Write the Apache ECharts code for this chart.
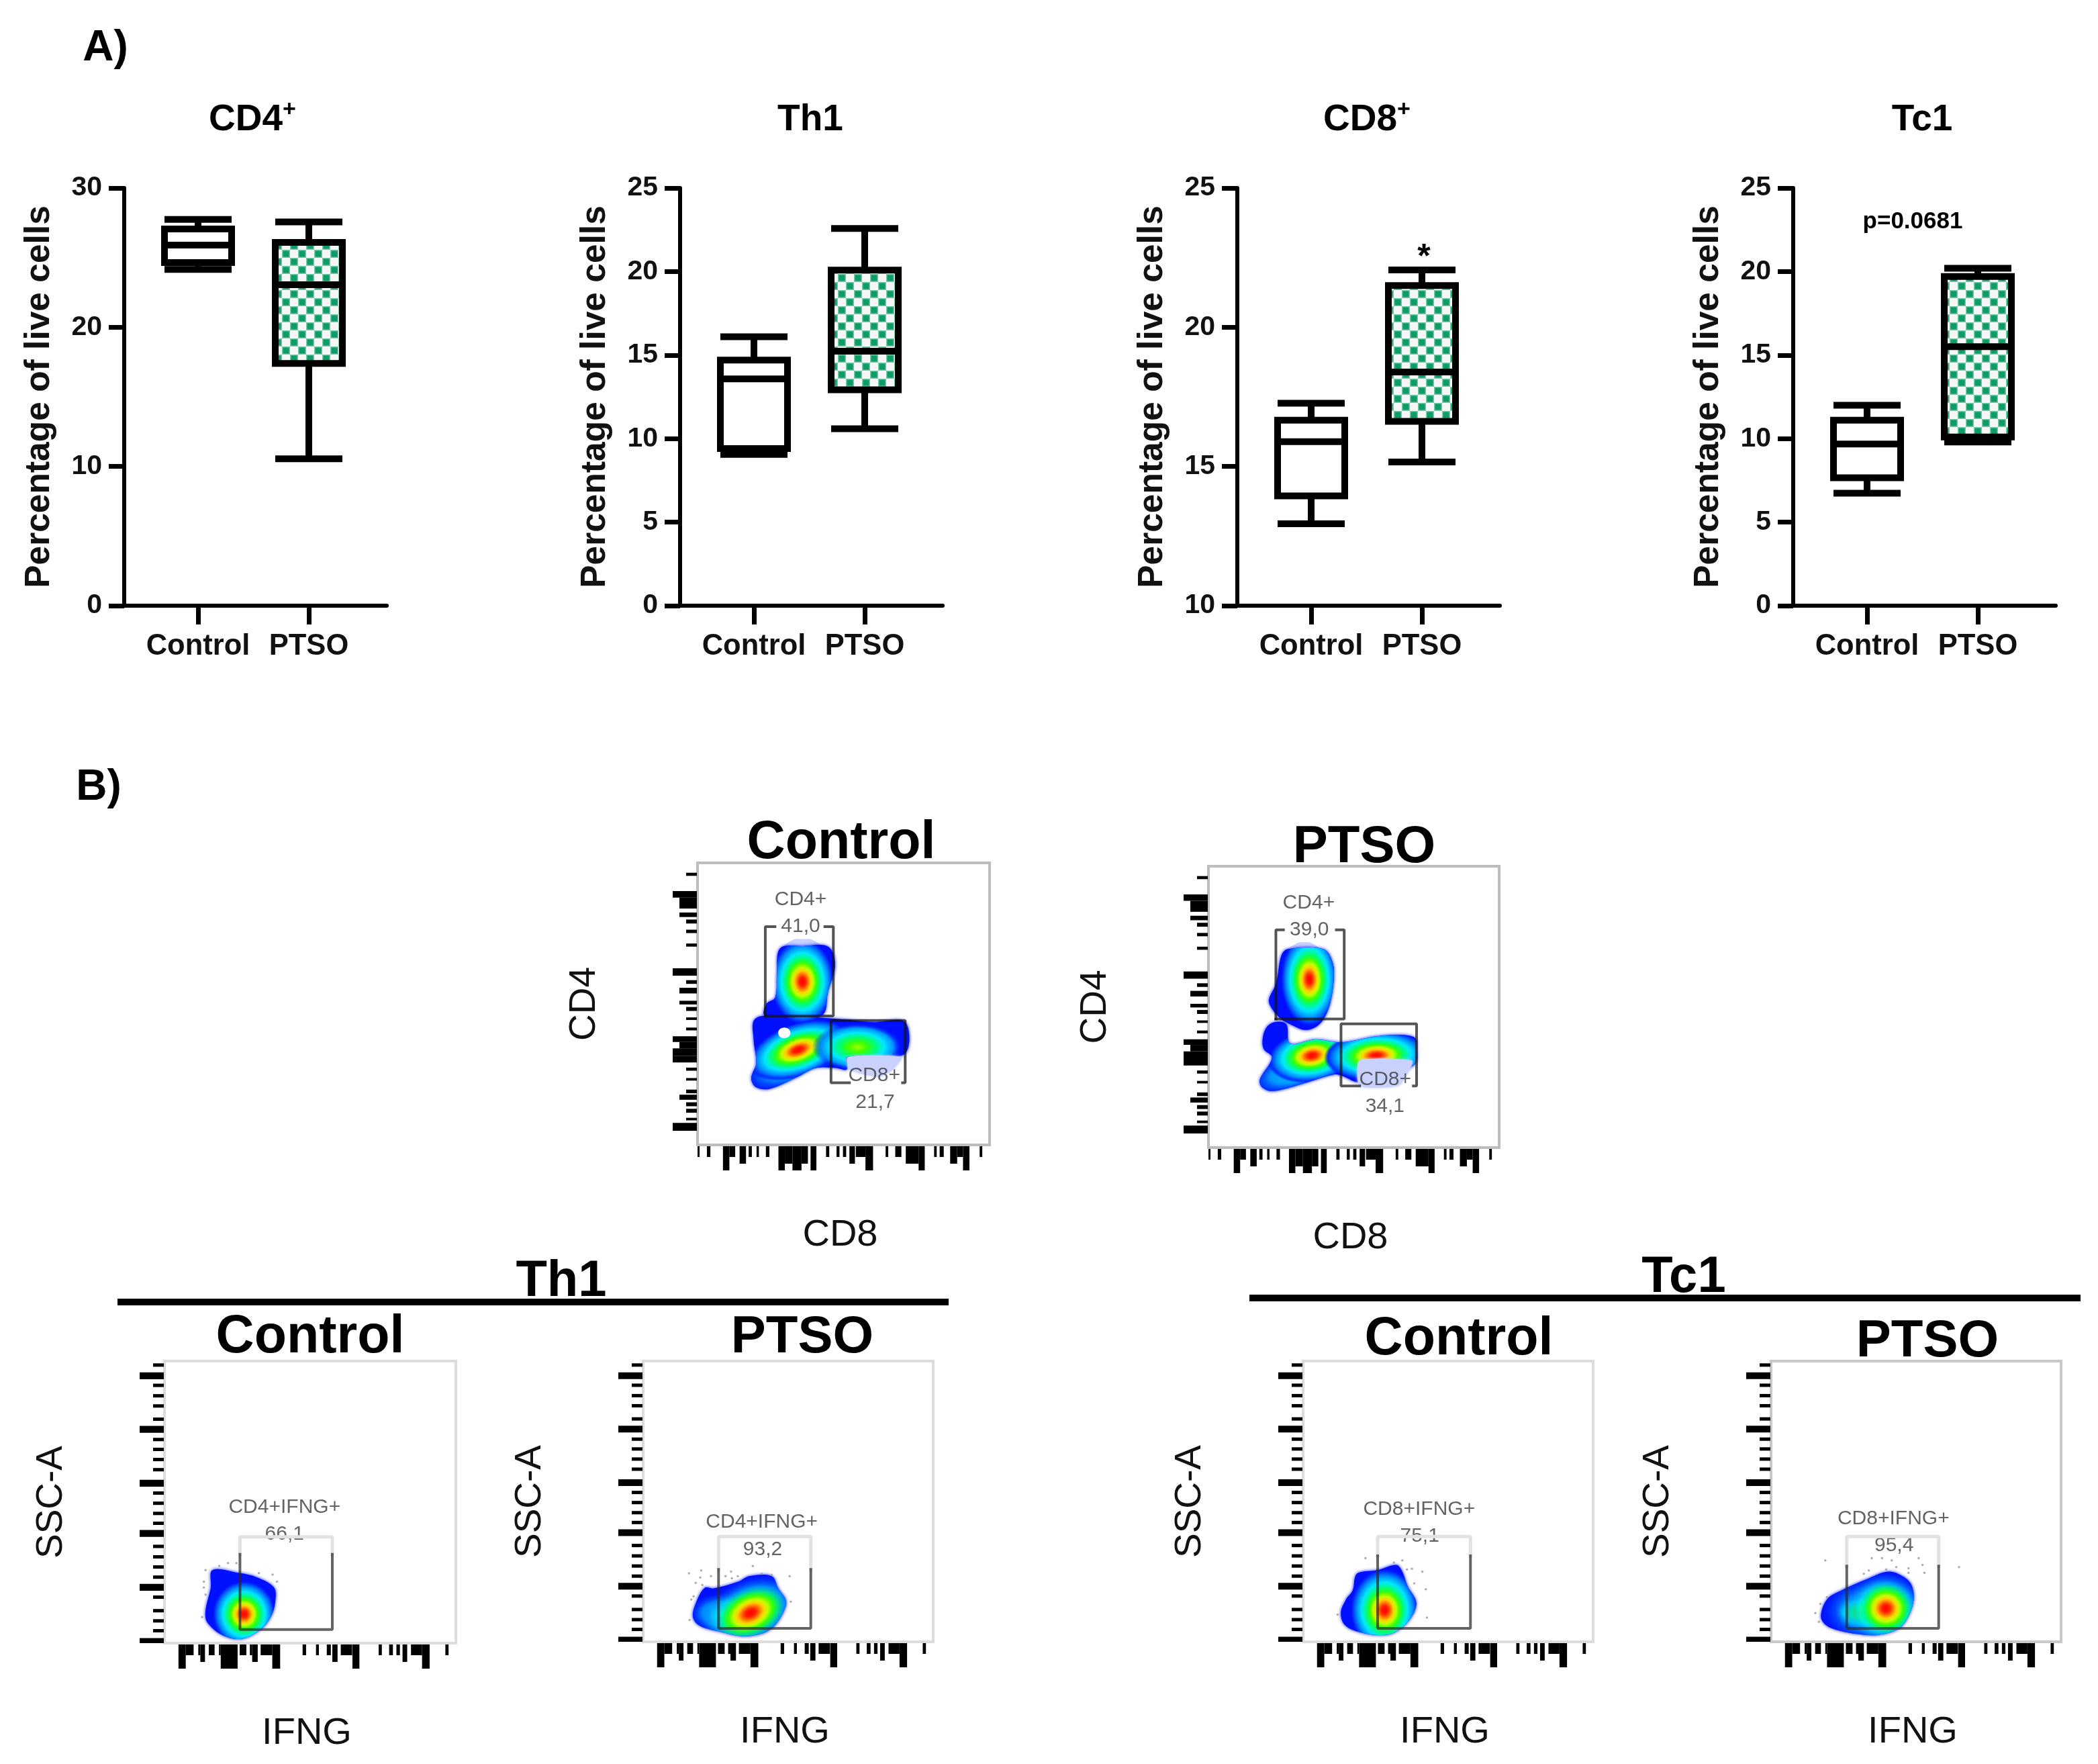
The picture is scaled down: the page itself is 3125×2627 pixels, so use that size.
<!DOCTYPE html>
<html><head><meta charset="utf-8">
<style>html,body{margin:0;padding:0;background:#fff}#main{width:3125px;height:2627px}</style>
<script src="https://cdn.jsdelivr.net/npm/echarts@6/dist/echarts.min.js"></script>
</head><body><div id="main"></div>
<script>
// ---------- Box plot values: [min, Q1, median, Q3, max]
const groupNames = ['Control', 'PTSO'];
const groupSlots = [2, 5];
const cd4Control = [24.15, 24.65, 25.9, 27.06, 27.75];
const cd4Ptso    = [10.55, 17.4, 23.06, 26.09, 27.56];
const th1Control = [9.05, 9.41, 13.58, 14.7, 16.1];
const th1Ptso    = [10.59, 12.92, 15.23, 20.09, 22.58];
const cd8Control = [12.94, 13.94, 15.89, 16.66, 17.27];
const cd8Ptso    = [15.16, 16.62, 18.39, 21.5, 22.06];
const tc1Control = [6.73, 7.66, 9.68, 11.1, 12.0];
const tc1Ptso    = [9.8, 10.1, 15.5, 19.7, 20.2];
const axisRanges = [[0, 30, 10], [0, 25, 5], [10, 25, 5], [0, 25, 5]];

// ---------- Flow plots, both axes 0-100 of channel range
const rugTopX = [[0,0.7,0],[3.2,4.4,0],[8.7,10.9,2],[10.9,12.9,0],[14.4,16.6,1],[17.5,18.6,0],[20.2,21,0],[23.4,24.6,0],[27.7,29.9,2],[29.9,32.5,1],[32.5,35.6,2],[35.6,37.8,1],[38.7,40.7,2],[44,45.1,0],[47.6,48.6,0],[49.8,50.9,0],[52,53.9,1],[54.2,57.5,0],[57.5,60.1,2],[64.4,65.3,0],[67.7,69.8,0],[71.3,75.7,1],[75.7,77.8,2],[81,81.9,0],[82.9,84.3,0],[86.5,88.9,1],[88.9,90.9,0],[90.9,93.1,2],[96.6,97.5,0]];
const rugTopY = [[95.4,96.5,0],[87.7,90,2],[83.8,87.7,1],[80.8,82.4,1],[78.5,79.9,0],[75.1,76.3,0],[70.3,71.4,0],[60,62.6,2],[57.1,58.4,0],[53.7,55.7,1],[49.8,51.1,1],[47.5,48.9,0],[44.3,45.2,0],[40.6,41.6,0],[36.5,38.5,2],[34.2,36.5,1],[31.5,34.2,2],[29.2,31.5,2],[26.3,27.4,0],[22.8,23.7,0],[18.3,19.6,0],[16,17.8,1],[13.7,15.1,0],[11.4,12.8,0],[8.7,9.6,0],[5,7.8,2]];
const rugLowX = [[4.8,7.3,2],[7.3,10,0],[11.6,12.3,0],[12.3,13.9,1],[15.2,17.2,0],[18.7,19.3,0],[19.3,25.1,2],[25.8,28.1,0],[29.3,30.1,0],[30.1,32,1],[33,37,0],[37,39.7,2],[47.4,48.6,0],[52,53,0],[55.7,57.1,0],[57.6,59.4,1],[60.5,64.4,0],[64.5,66.9,2],[73.5,74.6,0],[77.1,78.4,0],[79.6,80.8,0],[81.7,83.3,1],[84.6,88.4,0],[88.4,91,2],[96.4,97.5,0]];
const rugLowY = [[93.6,96,2],[74.6,77,2],[55.5,57.9,2],[37.7,40.1,2],[18.6,21,2],[0,1.8,2],[98,99.2,0],[90.8,92,0],[87.1,88.3,0],[83.5,84.7,0],[78.8,80,0],[71.6,72.8,0],[68.1,69.3,0],[64.5,65.7,0],[60.9,62.1,0],[52.6,53.8,0],[49,50.2,0],[45.4,46.6,0],[41.9,43.1,0],[33.7,34.9,0],[30,31.2,0],[26.4,27.6,0],[22.8,24,0],[15.7,16.9,0],[10.9,12.1,0],[7.3,8.5,0],[3.8,5,0]];

// Density outlines and peaks [x, y, radiusX, radiusY, tiltDegrees, ramp]
const ctlUpperBody = [[28.3,69.7],[36,70.5],[44.7,70.3],[47.1,63.9],[44.7,54.4],[42.4,45.9],[23.1,45.9],[23.7,50.1],[26.6,52.2],[27.2,60.7]];
const ctlLowerBody = [[19.6,44.6],[27.2,45.9],[48.8,44.6],[60,43.5],[71.1,43.5],[70.7,32.1],[51.2,31.2],[51.2,26.8],[47.1,27.3],[40.6,27.3],[34.2,24.1],[24.8,19.9],[20.1,20.4],[18.4,23.6],[20.1,28.9],[19.2,37.4]];
const ctlPeaks = [[35.9,57.9,11,15.5,0,'hi'],[33,29.5,20,9,24,'low'],[34.4,33.7,18,9.5,20,'hi'],[54.7,34.7,15.5,8.5,0,'mid']];
const ctlPatch = [[51.8,31.2],[69.9,31.2],[67,26.8],[62.3,24.1],[51.8,26.8]];
const ctlCap = [[29,69],[32,72.4],[36,73],[40,72.4],[43,69]];
const ctlHole = [[29.7,39.7,2.1,1.9]];
const ptsUpperBody = [[25,68],[27.2,70.5],[39.6,70.5],[42.7,65.8],[43.1,59.4],[41.8,51.1],[39.6,45.7],[37,42.9],[33.4,41.8],[29,43.4],[25,45.7],[21.9,49.3],[20.8,52.5],[23.3,58.4]];
const ptsLowerBody = [[23.3,44.7],[26.8,43.8],[28.1,37],[37,38.4],[45.8,37.4],[59,39.7],[70.6,39.3],[71.6,34.7],[70.6,29.2],[52,23.3],[45.8,25.6],[43.2,26],[29.9,21.9],[21.9,20.1],[18.4,21.5],[17.7,24.2],[21.9,32],[19,35],[18.7,39],[20.2,43]];
const ptsPeaks = [[34.7,59.8,10,17,0,'hi'],[31,28,19,8,20,'low'],[35.6,32.7,15.5,9.5,10,'hi'],[57.7,32.7,18,9,3,'hi']];
const ptsPatch = [[52,30.9],[70.1,30.9],[68.8,26.9],[65.3,21.9],[52,21.9]];
const ptsCap = [[27,69.5],[30,72.4],[33,73],[36,72.4],[39,69.5]];

const th1CtlBody = [[16.5,25.9],[25.9,24.8],[31.8,23.3],[37.6,19.7],[38,14.6],[36.5,9.4],[32.9,4.8],[26.5,1.5],[20,2.8],[14.7,7.4],[14.1,11.5],[15.9,19.7]];
const th1CtlPeaks = [[27.3,10.3,11,12,0,'hi']];
const th1CtlDots = [[14.1,25.9],[18.8,27.4],[21.8,28.4],[24.7,28.4],[32.4,24.8],[37.1,24.3],[38.6,21.8],[13.5,21.8],[13.5,19.7],[14.1,17.2],[12.9,9.2]];
const th1PtsBody = [[21.2,19.2],[24.3,19],[32.8,21.4],[36.6,23.4],[44.3,23.4],[46.6,19],[49.3,14.3],[47.4,8.7],[44.3,4.8],[40.5,2.8],[34.3,2],[26.6,3.6],[19.7,5.6],[17.2,8.7],[18.1,13.5]];
const th1PtsPeaks = [[27,10,12,8,0,'low'],[37,10.3,19,13,25,'hiSoft']];
const th1PtsDots = [[15.8,24.4],[20,25.4],[19.7,22.9],[23.4,23.4],[18.1,21],[20.4,20.2],[30.3,25],[28.4,23.4],[30.6,22.6],[32.6,23.4],[40.9,24.2],[44.3,23.8],[50.5,23.4],[50.9,14.3],[17.4,16.2],[16.6,15.1],[16,7.8],[37.8,27]];
const tc1CtlBody = [[19,24.6],[25.9,25.6],[32.1,27.4],[34,25.4],[36,19.8],[39,13.9],[36.7,7.9],[31.3,3.2],[25.9,2.4],[19,3.6],[14.4,6],[13,10.3],[14.8,15.1],[17.1,18.3],[17.9,23]];
const tc1CtlPeaks = [[28.1,11.3,12,15,0,'hi']];
const tc1CtlDots = [[21.5,29.8],[31.3,28.2],[34.2,29],[35.8,25.8],[37.5,26],[41.1,25],[38.3,20.8],[42.3,18.7],[42.7,8.6],[11.9,9.7]];
const tc1PtsBody = [[24.3,18.3],[32.8,22.2],[40.5,25],[45.9,23],[48.6,19.8],[49.1,14.3],[46.7,7.9],[43.6,4.4],[36.6,2.4],[29.7,2.8],[23.5,4],[18.9,6],[17.2,9.1],[19.3,15.1]];
const tc1PtsPeaks = [[36,11,20,13,0,'low'],[31,10.5,8.5,6,0,'tail'],[39.6,11.9,14,14,0,'hiSoft']];
const tc1PtsDots = [[18.7,29],[34.7,29.8],[38.3,29.8],[41.6,29],[50.9,29.8],[52.2,27.4],[64.8,26.6],[33.7,25.4],[32,24.2],[39.7,25.8],[43.2,26.6],[47.4,26.2],[47.4,24.6],[52.9,24.6],[17,13.5],[19.3,15.9],[15.3,10.2],[16.5,7.1]];

// Gate outlines
const ctlCd4Gate = [[[23.2,45.7],[23.2,77.4],[26.5,77.4]],[[43.6,77.4],[46.5,77.4],[46.5,45.7],[23.2,45.7]]];
const ctlCd8Gate = [[[52,22],[45.7,22],[45.7,44.1],[71.1,44.1],[71.1,22],[70.2,22]]];
const ptsCd4Gate = [[[23.2,45.7],[23.2,77.4],[25.8,77.4]],[[44,77.4],[46.7,77.4],[46.7,45.7],[23.2,45.7]]];
const ptsCd8Gate = [[[52,21.9],[45.6,21.9],[45.6,44],[71.6,44],[71.6,21.9],[70.5,21.9]]];

// Gate labels [x, y, text]
const ctlLabels = [[35.3,87,'CD4+'],[35.3,77.4,'41,0'],[60.5,24.5,'CD8+'],[60.8,15,'21,7']];
const ptsLabels = [[34.5,87,'CD4+'],[34.7,77.4,'39,0'],[60.8,24.2,'CD8+'],[60.7,14.6,'34,1']];
const th1CtlLabels = [[41.2,48.2,'CD4+IFNG+'],[41.2,38.7,'66,1']];
const th1PtsLabels = [[40.9,42.7,'CD4+IFNG+'],[41.2,32.9,'93,2']];
const tc1CtlLabels = [[40,47.2,'CD8+IFNG+'],[40.2,37.7,'75,1']];
const tc1PtsLabels = [[42.2,43.8,'CD8+IFNG+'],[42.4,34.3,'95,4']];

// ---------- Layout and style (in code, not in the data above)
const FONT = '"Liberation Sans", Arial, sans-serif';
const BOX_LEFT = [185, 1013, 1843, 2671];
const BOX_TOP = 280, BOX_W = 391, BOX_H = 622;
const boxSets = [[cd4Control, cd4Ptso], [th1Control, th1Ptso], [cd8Control, cd8Ptso], [tc1Control, tc1Ptso]];

const checker = document.createElement('canvas');
(function () {
  checker.width = 24; checker.height = 24;
  const c = checker.getContext('2d');
  c.fillStyle = '#f6f8f7'; c.fillRect(0, 0, 24, 24);
  for (let i = 0; i < 2; i++) for (let j = 0; j < 2; j++) {
    if ((i + j) % 2) continue;
    c.fillStyle = '#78c8a8'; c.fillRect(i * 12, j * 12, 12, 12);
    c.fillStyle = '#0e9c66'; c.fillRect(i * 12 + 1.5, j * 12 + 1.5, 9, 9);
  }
})();

const ramps = {
  hi: [[0,'#ff0000'],[.1,'#ff2000'],[.17,'#ff7000'],[.25,'#ffd000'],[.33,'#c0ff00'],[.42,'#40ff00'],[.52,'#00ff70'],[.66,'#00e8ff'],[.8,'#0090ff'],[.92,'#0030ff'],[1,'rgba(0,0,255,0)']],
  hiSoft: [[0,'#ff0000'],[.1,'#ff2000'],[.17,'#ff7000'],[.25,'#ffd000'],[.33,'#c0ff00'],[.42,'#40ff00'],[.52,'rgba(0,255,112,.9)'],[.66,'rgba(0,232,255,.55)'],[.8,'rgba(0,144,255,.3)'],[1,'rgba(0,0,255,0)']],
  mid: [[0,'#a0ff00'],[.2,'#40ff00'],[.4,'#00ff70'],[.6,'#00e8ff'],[.8,'#0090ff'],[1,'rgba(0,0,255,0)']],
  low: [[0,'#00e8ff'],[.55,'#0090ff'],[1,'rgba(0,0,255,0)']],
  tail: [[0,'#20ff40'],[.4,'#00ff90'],[.7,'rgba(0,220,255,.8)'],[1,'rgba(0,150,255,0)']]
};
function rampFill(key) {
  return new echarts.graphic.RadialGradient(.5, .5, .5, ramps[key].map(s => ({ offset: s[0], color: s[1] })));
}

const flowPanels = [
  { l:1039, t:1285, w:435, h:420, frame:'#bdbdbd', rx:rugTopX, ry:rugTopY, nx:'CD8', ny:'CD4', bodies:[ctlUpperBody,ctlLowerBody], peaks:ctlPeaks, patch:ctlPatch, cap:ctlCap, holes:ctlHole, dots:[], gates:[...ctlCd4Gate,...ctlCd8Gate], labels:ctlLabels },
  { l:1800, t:1290, w:433, h:419, frame:'#bdbdbd', rx:rugTopX, ry:rugTopY, nx:'CD8', ny:'CD4', bodies:[ptsUpperBody,ptsLowerBody], peaks:ptsPeaks, patch:ptsPatch, cap:ptsCap, holes:[], dots:[], gates:[...ptsCd4Gate,...ptsCd8Gate], labels:ptsLabels },
  { l:245, t:2027, w:434, h:420, frame:'#dcdcdc', rx:rugLowX, ry:rugLowY, nx:'IFNG', ny:'SSC-A', bodies:[th1CtlBody], peaks:th1CtlPeaks, dots:th1CtlDots, holes:[], box:[25.9,57.6,37.7,4.8,31.5], labels:th1CtlLabels },
  { l:958, t:2027, w:432, h:418, frame:'#dcdcdc', rx:rugLowX, ry:rugLowY, nx:'IFNG', ny:'SSC-A', bodies:[th1PtsBody], peaks:th1PtsPeaks, dots:th1PtsDots, holes:[], box:[26,57.8,37.5,4.8,25.8], labels:th1PtsLabels },
  { l:1941, t:2027, w:432, h:418, frame:'#dcdcdc', rx:rugLowX, ry:rugLowY, nx:'IFNG', ny:'SSC-A', bodies:[tc1CtlBody], peaks:tc1CtlPeaks, dots:tc1CtlDots, holes:[], box:[25.7,57.7,37.5,4.8,30.6], labels:tc1CtlLabels },
  { l:2638, t:2027, w:432, h:418, frame:'#c8c8c8', rx:rugLowX, ry:rugLowY, nx:'IFNG', ny:'SSC-A', bodies:[tc1PtsBody], peaks:tc1PtsPeaks, dots:tc1PtsDots, holes:[], box:[26.1,57.8,37.5,4.8,27], labels:tc1PtsLabels }
];

const grid = [], xAxis = [], yAxis = [], series = [];

// Box plots
boxSets.forEach((set, i) => {
  const [lo, hi, step] = axisRanges[i];
  grid.push({ left: BOX_LEFT[i], top: BOX_TOP, width: BOX_W, height: BOX_H });
  xAxis.push({
    type: 'value', gridIndex: i, min: 0, max: BOX_W / 55, splitLine: { show: false },
    axisLine: { lineStyle: { color: '#000', width: 6 } },
    axisTick: { customValues: groupSlots, length: 28, lineStyle: { color: '#000', width: 7 } },
    axisLabel: { customValues: groupSlots, margin: 39, color: '#111', fontFamily: FONT, fontWeight: 'bold', fontSize: 43.5,
      formatter: v => groupNames[groupSlots.indexOf(v)] || '' }
  });
  yAxis.push({
    type: 'value', gridIndex: i, min: lo, max: hi, interval: step, splitLine: { show: false },
    axisLine: { show: true, lineStyle: { color: '#000', width: 6 } },
    axisTick: { show: true, length: 23, lineStyle: { color: '#000', width: 7 } },
    axisLabel: { margin: 33, color: '#111', fontFamily: FONT, fontWeight: 'bold', fontSize: 41 },
    name: 'Percentage of live cells', nameLocation: 'middle', nameGap: 100,
    nameTextStyle: { color: '#111', fontFamily: FONT, fontWeight: 'bold', fontSize: 51.5 }
  });
  series.push({
    type: 'boxplot', xAxisIndex: i, yAxisIndex: i, silent: true, boxWidth: [100, 100],
    data: set.map((vals, g) => ({
      value: [groupSlots[g], ...vals],
      itemStyle: { color: g ? { image: checker, repeat: 'repeat' } : '#fff', borderColor: '#000', borderWidth: 10 }
    })),
    itemStyle: { color: '#fff', borderColor: '#000', borderWidth: 10 }
  });
});

// Flow plots
flowPanels.forEach((p, k) => {
  const i = k + boxSets.length;
  grid.push({ left: p.l, top: p.t, width: p.w, height: p.h, show: true, borderColor: p.frame, borderWidth: 4, backgroundColor: '#fff' });
  xAxis.push({ type: 'value', gridIndex: i, min: 0, max: 100, splitLine: { show: false }, axisLine: { show: false }, axisTick: { show: false }, axisLabel: { show: false },
    name: p.nx, nameLocation: 'middle', nameGap: 107, nameTextStyle: { color: '#111', fontFamily: FONT, fontSize: 56, padding: [0, 10, 0, 0] } });
  yAxis.push({ type: 'value', gridIndex: i, min: 0, max: 100, splitLine: { show: false }, axisLine: { show: false }, axisTick: { show: false }, axisLabel: { show: false },
    name: p.ny, nameLocation: 'middle', nameGap: 141, nameTextStyle: { color: '#111', fontFamily: FONT, fontSize: 55 } });

  const on = { xAxisIndex: i, yAxisIndex: i, silent: true };
  const pts = (api, arr) => arr.map(q => api.coord(q));

  series.push({ ...on, type: 'custom', data: [[50, 50]], encode: { x: 0, y: 1 },
    renderItem: (params, api) => {
      const size = api.size([1, 1]);
      const kids = [];
      if (p.cap) kids.push({ type: 'polygon', shape: { points: pts(api, p.cap), smooth: 0.5 }, style: { fill: '#c9d2ff' } });
      p.bodies.forEach(b => {
        kids.push({ type: 'polygon', shape: { points: pts(api, b), smooth: 0.35 }, style: { fill: '#0010ff', shadowBlur: 5, shadowColor: '#0010ff' } });
      });
      p.bodies.forEach(b => {
        const clip = pts(api, b);
        kids.push({ type: 'group', clipPath: { type: 'polygon', shape: { points: clip, smooth: 0.35 } },
          children: p.peaks.map(q => {
            const c = api.coord([q[0], q[1]]);
            return { type: 'circle', x: c[0], y: c[1], rotation: q[4] * Math.PI / 180,
              scaleX: q[2] * size[0] / 100, scaleY: q[3] * size[1] / 100,
              shape: { cx: 0, cy: 0, r: 100 }, style: { fill: rampFill(q[5]) } };
          }) });
      });
      if (p.patch) kids.push({ type: 'polygon', shape: { points: pts(api, p.patch), smooth: 0.2 }, style: { fill: '#c9d2ff', shadowBlur: 4, shadowColor: '#c9d2ff' } });
      (p.holes || []).forEach(h => {
        const c = api.coord([h[0], h[1]]);
        kids.push({ type: 'ellipse', shape: { cx: c[0], cy: c[1], rx: h[2] * size[0], ry: h[3] * size[1] }, style: { fill: '#fff' } });
      });
      return { type: 'group', children: kids };
    } });

  if (p.dots.length) series.push({ ...on, type: 'scatter', data: p.dots, symbolSize: 3.5, itemStyle: { color: '#999' } });

  const lineOf = (data, color, width) => series.push({ ...on, type: 'line', data, showSymbol: false, symbol: 'none', lineStyle: { color, width, cap: 'square' } });
  (p.gates || []).forEach(g => lineOf(g, 'rgba(20,20,20,.72)', 4));
  if (p.box) {
    const [x0, x1, top, bot, edge] = p.box;
    lineOf([[x0, edge], [x0, top], [x1, top], [x1, edge]], '#e2e2e2', 5);
    lineOf([[x0, edge], [x0, bot], [x1, bot], [x1, edge]], 'rgba(40,40,40,.72)', 4);
  }

  series.push({ ...on, type: 'scatter', data: p.labels, symbolSize: 1, itemStyle: { color: 'transparent' },
    label: { show: true, position: 'inside', formatter: d => d.data[2], color: '#3c3c3c', fontFamily: FONT, fontSize: 30 } });

  const rugLen = [16, 26, 36];
  series.push({ ...on, type: 'custom', data: p.rx, encode: { x: [0, 1], y: 2 },
    renderItem: (params, api) => {
      const a = api.coord([api.value(0), 0]), b = api.coord([api.value(1), 0]);
      return { type: 'rect', shape: { x: a[0], y: a[1] + 2, width: b[0] - a[0], height: rugLen[api.value(2)] }, style: { fill: '#000' } };
    } });
  series.push({ ...on, type: 'custom', data: p.ry, encode: { y: [0, 1], x: 2 },
    renderItem: (params, api) => {
      const a = api.coord([0, api.value(1)]), b = api.coord([0, api.value(0)]);
      const len = rugLen[api.value(2)];
      return { type: 'rect', shape: { x: a[0] - len - 1, y: a[1], width: len, height: b[1] - a[1] }, style: { fill: '#000' } };
    } });
});

// Texts
const head = (text, left, top, fontSize, extra) => ({ text, left: left - 4, top: top - 1, textAlign: 'center', textVerticalAlign: 'middle',
  textStyle: { fontFamily: FONT, fontWeight: 'bold', fontSize, color: '#000', ...(extra || {}) } });
const sup = { rich: { s: { fontFamily: FONT, fontWeight: 'bold', fontSize: 34, color: '#000', padding: [0, 0, 30, 0] } } };
const title = [
  head('A)', 156, 68, 64), head('B)', 146, 1169, 64),
  head('CD4{s|+}', 375, 175, 55, sup), head('Th1', 1206, 175, 55),
  head('CD8{s|+}', 2035, 175, 55, sup), head('Tc1', 2862, 175, 55),
  head('*', 2120, 380, 50), head('p=0.0681', 2848, 326, 35),
  head('Control', 1252, 1252, 79), head('PTSO', 2031, 1258, 78),
  head('Th1', 835, 1905, 76), head('Tc1', 2507, 1899, 76),
  head('Control', 461, 1988, 79), head('PTSO', 1194, 1988, 78),
  head('Control', 2172, 1991, 79), head('PTSO', 2870, 1994, 78)
];
const graphic = [
  { type: 'line', shape: { x1: 175, y1: 1939, x2: 1413, y2: 1939 }, style: { stroke: '#000', lineWidth: 10 } },
  { type: 'line', shape: { x1: 1861, y1: 1933, x2: 3099, y2: 1933 }, style: { stroke: '#000', lineWidth: 10 } }
];

const chart = echarts.init(document.getElementById('main'), null, { renderer: 'canvas' });
chart.setOption({ animation: false, backgroundColor: '#fff', tooltip: { show: false }, title, graphic, grid, xAxis, yAxis, series });
</script></body></html>
